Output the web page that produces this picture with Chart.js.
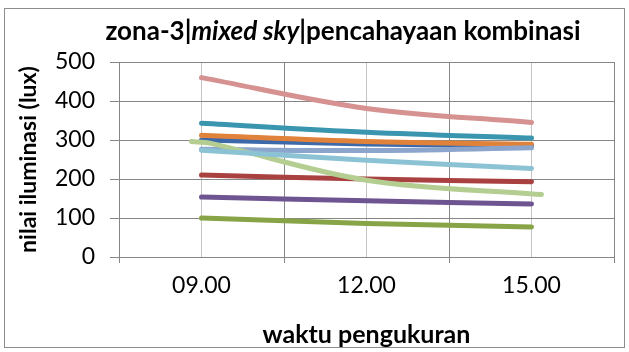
<!DOCTYPE html>
<html>
<head>
<meta charset="utf-8">
<script src="https://cdn.jsdelivr.net/npm/chart.js@4.4.0/dist/chart.umd.min.js"></script>
<style>
  html, body { margin: 0; padding: 0; background: #ffffff; }
  #wrap { width: 629px; height: 352px; position: relative; }
</style>
</head>
<body>
<div id="wrap"><canvas id="c" width="629" height="352"></canvas></div>
<script>
// ---- data ----
const categories = ["09.00", "12.00", "15.00"];
const xPositions = [0, 1, 2];

const pinkValues      = [460, 381, 345];
const tealValues      = [343, 320, 305];
const orangeValues    = [312, 296, 289];
const darkBlueValues  = [300, 290, 285];
const periwinkleValues= [276, 273, 280];
const lightCyanValues = [274, 248, 227];
const darkRedValues   = [210, 200, 193];
const purpleValues    = [154, 144, 136];
const greenValues     = [100, 86, 77];
// light green series runs slightly past the category positions
const lightGreenX      = [-0.06, 0.05, 1, 2.06];
const lightGreenValues = [296, 292, 197, 160];

const yTicks = [0, 100, 200, 300, 400, 500];

function pts(xs, ys) { return ys.map((v, i) => ({ x: xs[i], y: v })); }

// Excel draws later series on top; Chart.js draws dataset 0 on top, so list top-most first
const series = [
  { label: "light cyan",  color: "#8CC3D4", data: pts(xPositions, lightCyanValues) },
  { label: "light green", color: "#B4CD91", data: pts(lightGreenX, lightGreenValues) },
  { label: "pink",        color: "#D69191", data: pts(xPositions, pinkValues) },
  { label: "periwinkle",  color: "#8CA5CD", data: pts(xPositions, periwinkleValues) },
  { label: "orange",      color: "#E1823A", data: pts(xPositions, orangeValues) },
  { label: "teal",        color: "#3A96AF", data: pts(xPositions, tealValues) },
  { label: "purple",      color: "#6E5591", data: pts(xPositions, purpleValues) },
  { label: "green",       color: "#87A546", data: pts(xPositions, greenValues) },
  { label: "dark red",    color: "#AA4141", data: pts(xPositions, darkRedValues) },
  { label: "dark blue",   color: "#3C69AA", data: pts(xPositions, darkBlueValues) }
];

const FONT = "Lato";
const GRID_DARK = "#868686";
const GRID_LIGHT = "#C4C4C4";

const frameAndTitle = {
  id: "frameAndTitle",
  beforeDraw(chart) {
    const ctx = chart.ctx;
    ctx.save();
    ctx.fillStyle = "#ffffff";
    ctx.fillRect(0, 0, chart.width, chart.height);
    ctx.strokeStyle = "#8C8C8C";
    ctx.lineWidth = 1;
    ctx.strokeRect(4.5, 8.5, 620, 339);
    ctx.restore();
  },
  afterDraw(chart) {
    const ctx = chart.ctx;
    ctx.save();
    const parts = [
      { t: "zona-3|", f: "bold 26px " + FONT },
      { t: "mixed sky", f: "italic bold 26px " + FONT },
      { t: "|pencahayaan kombinasi", f: "bold 26px " + FONT }
    ];
    let total = 0;
    parts.forEach(p => { ctx.font = p.f; p.w = ctx.measureText(p.t).width; total += p.w; });
    let x = 343 - total / 2;
    ctx.fillStyle = "#000000";
    ctx.textBaseline = "middle";
    ctx.textAlign = "left";
    parts.forEach(p => { ctx.font = p.f; ctx.fillText(p.t, x, 32); x += p.w; });
    ctx.restore();
  }
};

new Chart(document.getElementById("c"), {
  type: "line",
  data: {
    datasets: series.map(s => ({
      label: s.label,
      data: s.data,
      borderColor: s.color,
      backgroundColor: s.color,
      borderWidth: 5,
      pointRadius: 0,
      pointHoverRadius: 0,
      tension: 0.35,
      borderCapStyle: "round",
      borderJoinStyle: "round",
      fill: false
    }))
  },
  options: {
    responsive: false,
    animation: false,
    devicePixelRatio: 1,
    layout: { padding: { top: 62, right: 15, left: 5, bottom: 0 } },
    plugins: { legend: { display: false }, tooltip: { enabled: false }, title: { display: false } },
    scales: {
      x: {
        type: "linear",
        min: -0.5,
        max: 2.5,
        afterFit(scale) { scale.height = 95; },
        afterBuildTicks(scale) {
          scale.ticks = [-0.5, 0, 0.5, 1, 1.5, 2, 2.5].map(v => ({ value: v }));
        },
        ticks: {
          autoSkip: false,
          maxRotation: 0,
          padding: 9,
          color: "#000000",
          font: { family: FONT, size: 23 },
          callback: (v) => Number.isInteger(v) ? categories[xPositions.indexOf(v)] : ""
        },
        grid: {
          color: (c) => (c.tick && Number.isInteger(c.tick.value)) ? GRID_LIGHT : GRID_DARK,
          tickColor: (c) => (c.tick && Number.isInteger(c.tick.value)) ? "rgba(0,0,0,0)" : GRID_DARK,
          tickLength: 6,
          lineWidth: 1
        },
        border: { color: GRID_DARK, width: 1 },
        title: {
          display: true,
          text: "waktu pengukuran",
          color: "#000000",
          font: { family: FONT, size: 25, weight: "bold" },
          padding: { top: 2, bottom: 2 }
        }
      },
      y: {
        min: 0,
        max: 500,
        afterFit(scale) { scale.width = 114; },
        afterBuildTicks(scale) { scale.ticks = yTicks.map(v => ({ value: v })); },
        ticks: {
          padding: 15,
          color: "#000000",
          font: { family: FONT, size: 23 }
        },
        grid: { color: GRID_DARK, tickColor: GRID_DARK, tickLength: 9, lineWidth: 1 },
        border: { color: GRID_DARK, width: 1 },
        title: {
          display: true,
          text: "nilai iluminasi (lux)",
          color: "#000000",
          font: { family: FONT, size: 23, weight: "bold" },
          padding: { top: 10, bottom: 0 }
        }
      }
    }
  },
  plugins: [frameAndTitle]
});
</script>
</body>
</html>
